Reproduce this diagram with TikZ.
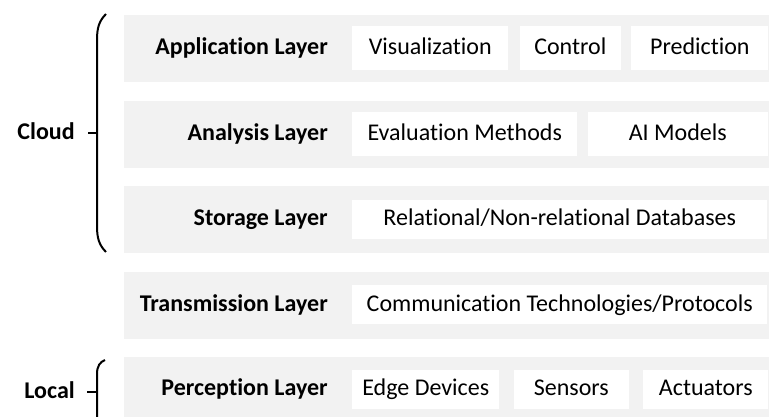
\documentclass[tikz,border=0pt]{standalone}
\usepackage{fontspec}
\setmainfont{Carlito}[Ligatures=NoCommon]
\usepackage{tikz}
\usetikzlibrary{positioning}
\definecolor{bandgray}{HTML}{F2F2F2}

\begin{document}
\begin{tikzpicture}[
  x=0.75pt, y=-0.75pt,
  node distance=7.5pt,
  band/.style={
    rectangle, fill=bandgray, inner sep=0pt, anchor=north west,
    minimum width=483.75pt, minimum height=50.25pt
  },
  item/.style={
    rectangle, fill=white, inner sep=0pt, minimum height=33pt,
    text height=12.5pt, text depth=3pt, font=\fontsize{18}{21.6}\selectfont
  },
  itemlow/.style={item, minimum height=29.25pt},
  layer/.style={
    inner sep=0pt, anchor=east, text height=12.5pt, text depth=3pt,
    font=\fontsize{18}{21.6}\selectfont\bfseries
  },
  brace/.style={line width=1.5pt}
]
  \clip (0,0) rectangle (769,417);

  % bands
  \node[band] (b1) at (124,15) {};
  \node[band] (b2) at (124,101) {};
  \node[band] (b3) at (124,186) {};
  \node[band] (b4) at (124,272) {};
  \node[band] (b5) at (124,357) {};

  % application
  \node[item, minimum width=117pt, anchor=west] (vis) at (352,48) {Visualization};
  \node[item, minimum width=75.75pt, right=8.25pt of vis] (ctrl) {Control};
  \node[item, minimum width=102.75pt, right=of ctrl] (pred) {Prediction};
  \node[layer] (app) at ([xshift=-18pt]vis.west) {Application Layer};

  % analysis
  \node[item, minimum width=168.75pt, anchor=west] (eval) at (352,134) {Evaluation Methods};
  \node[item, minimum width=135pt, right=of eval] (ai) {AI Models};
  \node[layer] (ana) at ([xshift=-18pt]eval.west) {Analysis Layer};

  % storage
  \node[itemlow, minimum width=311.25pt, anchor=west] (db) at (352,219.5) {Relational/Non-relational Databases};
  \node[layer] (sto) at ([xshift=-18pt]db.west) {Storage Layer};

  % transmission
  \node[itemlow, minimum width=311.25pt, anchor=west] (comm) at (352,305) {Communication Technologies/Protocols};
  \node[layer] (tra) at ([xshift=-18pt]comm.west) {Transmission Layer};

  % perception
  \node[itemlow, minimum width=110.25pt, anchor=west] (edge) at (352,389.5) {Edge Devices};
  \node[itemlow, minimum width=86.25pt, right=10.5pt of edge] (sens) {Sensors};
  \node[itemlow, minimum width=93.75pt, right=10.5pt of sens] (act) {Actuators};
  \node[layer] (per) at ([xshift=-18pt]edge.west) {Perception Layer};

  % braces
  \draw[brace] (106,14) .. controls (99,21) and (97,28) .. (97,40) -- (97,226)
    .. controls (97,238) and (99,245) .. (106,252);
  \draw[brace] (88,133) -- (97,133);
  \node[layer] (cloud) at (75,133) {Cloud};

  \draw[brace] (105,360) .. controls (100,362) and (97,366) .. (97,374) -- (97,430);
  \draw[brace] (87,392) -- (97,392);
  \node[layer] (local) at (75,392) {Local};
\end{tikzpicture}
\end{document}
